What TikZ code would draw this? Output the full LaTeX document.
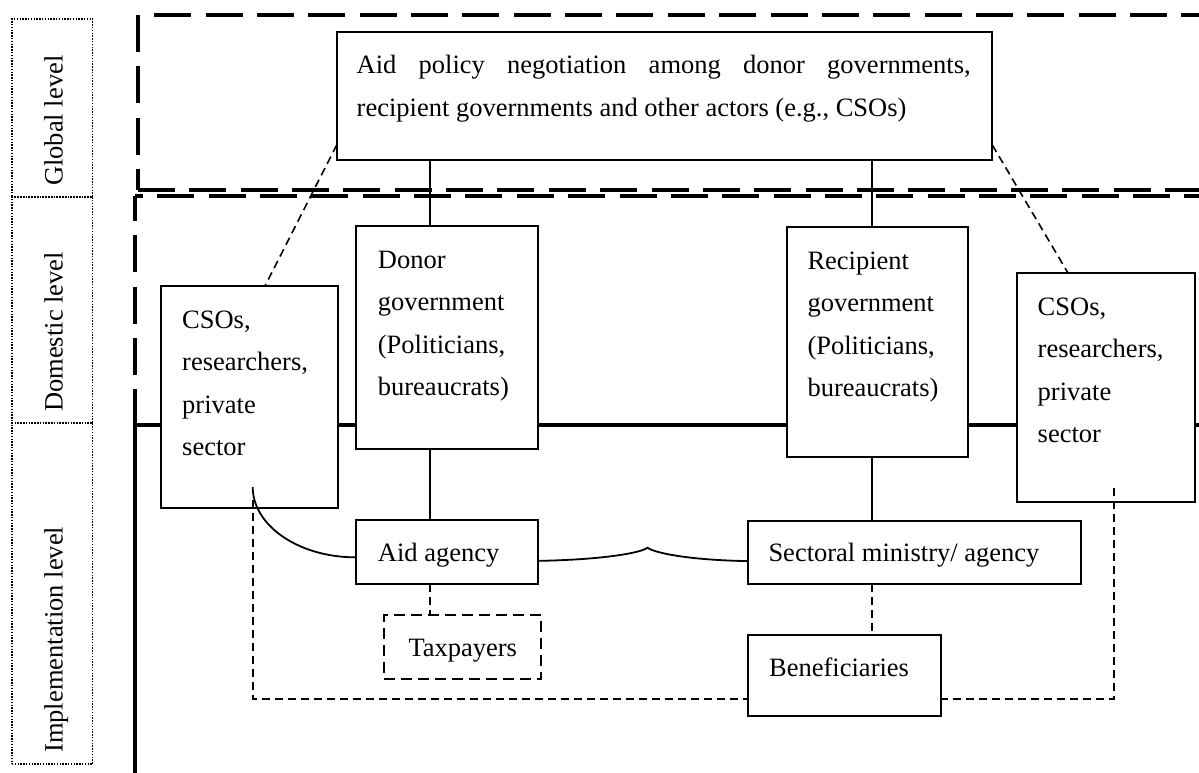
\documentclass[tikz,border=0pt]{standalone}
\usepackage{fontspec}
\setmainfont{Liberation Serif}
\begin{document}
\begin{tikzpicture}[x=1pt,y=-1pt,
  every node/.style={font=\fontsize{26.5}{42.5}\selectfont},
  box/.style={draw, line width=1.8pt, fill=white, inner sep=0pt, outer sep=0pt, anchor=north west},
  dbox/.style={box, dash pattern=on 11pt off 6pt},
  lvlbox/.style={draw, line width=1.3pt, dash pattern=on 1.4pt off 1.4pt, inner sep=0pt, outer sep=0pt, anchor=north west, minimum width=80.7pt},
  lvltxt/.style={rotate=90, anchor=base west, inner sep=0pt},
  txt/.style={anchor=base west, inner sep=0pt, align=left},
  frame/.style={line width=4.3pt, dash pattern=on 37pt off 14.35pt},
  conn/.style={line width=1.8pt},
  dconn/.style={line width=1.6pt, dash pattern=on 8pt off 5pt}
]
\clip (0,0) rectangle (1199,773);
\fill[white] (0,0) rectangle (1199,773);

% level labels on the left
\node[lvlbox, minimum height=178pt] (glob) at (12,19) {};
\node[lvlbox, minimum height=226pt] (dom) at (12,197) {};
\node[lvlbox, minimum height=341pt] (impl) at (12,423) {};
\node[lvltxt] (globt) at (62.5,186) {Global level};
\node[lvltxt] (domt) at (62.5,412) {Domestic level};
\node[lvltxt] (implt) at (62.5,753) {Implementation level};

% global level frame
\draw[frame] (154.3,15) -- (1210,15);
\draw[frame] (138,15) -- (138,190);
\draw[frame] (138,190) -- (1210,190);
% domestic level frame
\draw[frame, dash phase=29pt] (135,196) -- (1210,196);
\draw[frame, dash phase=12pt] (135,196) -- (135,425);
% implementation level frame
\draw[line width=4.3pt] (135,780) -- (135,425) -- (1210,425);

% boxes
\node[box, minimum width=655.6pt, minimum height=128pt] (nego) at (336.7,32) {};
\node[box, minimum width=176.7pt, minimum height=221.7pt] (csoL) at (161,286) {};
\node[box, minimum width=182pt, minimum height=223pt] (donor) at (356,226) {};
\node[box, minimum width=181pt, minimum height=229.4pt] (recip) at (786.7,227.3) {};
\node[box, minimum width=178.3pt, minimum height=229pt] (csoR) at (1016.7,273) {};
\node[box, minimum width=182.3pt, minimum height=63.7pt] (aid) at (355.7,520) {};
\node[box, minimum width=333.3pt, minimum height=63.6pt] (sect) at (747.7,520.7) {};
\node[dbox, minimum width=157pt, minimum height=64pt] (tax) at (384,615) {};
\node[box, minimum width=193pt, minimum height=80.7pt] (ben) at (748,635) {};

% box texts
\node[anchor=base west, inner sep=0pt, text width=614pt, align=justify] (negot) at (356.5,74)
  {Aid policy negotiation among donor governments,\linebreak recipient governments and other actors (e.g., CSOs)};
\node[txt, text width=150pt] (csoLt) at (182,328) {CSOs,\\researchers,\\private\\sector};
\node[txt, text width=150pt] (donort) at (377.7,268) {Donor\\government\\(Politicians,\\bureaucrats)};
\node[txt, text width=150pt] (recipt) at (807.3,269) {Recipient\\government\\(Politicians,\\bureaucrats)};
\node[txt, text width=150pt] (csoRt) at (1037.5,315) {CSOs,\\researchers,\\private\\sector};
\node[txt] (aidt) at (377.7,561.7) {Aid agency};
\node[txt] (sectt) at (768.3,561.7) {Sectoral ministry/ agency};
\node[txt] (taxt) at (408.3,656) {Taxpayers};
\node[txt] (bent) at (769,676.7) {Beneficiaries};

% attachment points
\coordinate (dx) at ([xshift=74pt]donor.north west);
\coordinate (rx) at ([xshift=85pt]recip.north west);
\coordinate (cusp) at (647.5,547.7);

% solid connectors
\draw[conn] (dx |- nego.south) -- (dx |- donor.north);
\draw[conn] (rx |- nego.south) -- (rx |- recip.north);
\draw[conn] (dx |- donor.south) -- (dx |- aid.north);
\draw[conn] (rx |- recip.south) -- (rx |- sect.north);

% dashed connectors
\draw[dconn] (dx |- aid.south) -- (dx |- tax.north);
\draw[dconn] (rx |- sect.south) -- (rx |- ben.north);
\draw[dconn] ([yshift=15pt]nego.south west) -- ([xshift=104pt]csoL.north west);
\draw[dconn] ([yshift=15pt]nego.south east) -- ([xshift=51.3pt]csoR.north west);
\draw[dconn] ([xshift=91.7pt,yshift=7.7pt]csoL.south west) |- ([yshift=-23.6pt]ben.west);
\draw[dconn] ([xshift=97pt,yshift=14pt]csoR.south west) |- ([yshift=-23.6pt]ben.east);

% curved link from the CSOs to the aid agency
\draw[conn] ([xshift=91.7pt,yshift=20.7pt]csoL.south west)
  .. controls +(0,38.6) and +(-57,0) .. ([yshift=-5.5pt]aid.west);

% brace joining the aid agency and the sectoral ministry
\draw[conn] ([yshift=-9pt]aid.east)
  .. controls +(62,-1) and +(-7,5.5) .. (cusp)
  .. controls +(7.5,5.5) and +(-57.7,-1) .. ([yshift=-8.6pt]sect.west);
\end{tikzpicture}
\end{document}
